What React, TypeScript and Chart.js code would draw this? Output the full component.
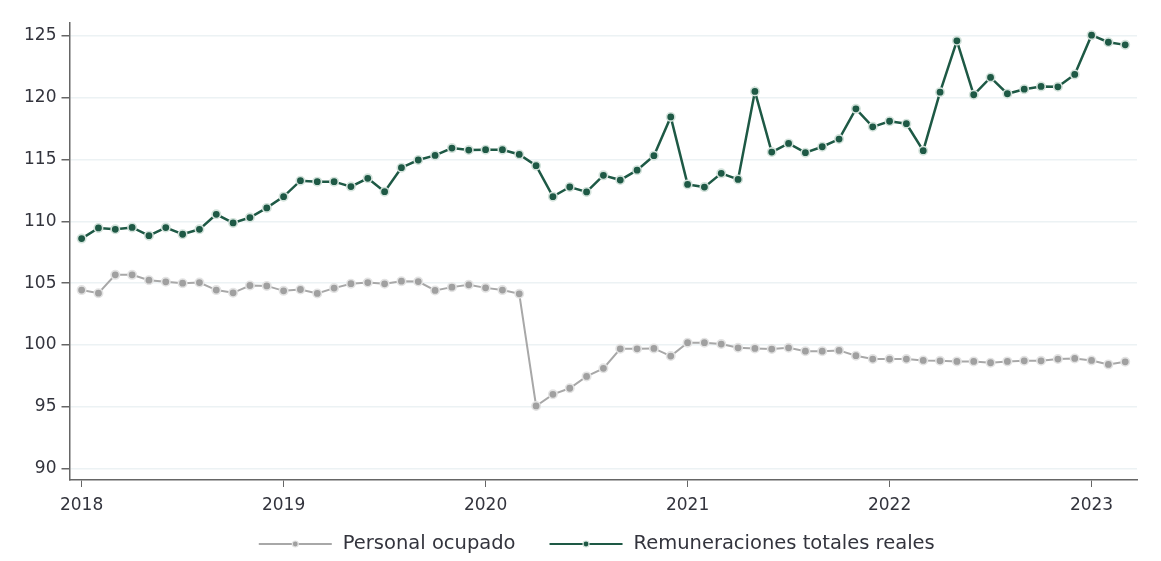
import React, { useEffect, useRef } from 'react';
import { Chart, registerables } from 'chart.js';

Chart.register(...registerables);

const FONT = '"DejaVu Sans", sans-serif';

const seriesNames = ['Personal ocupado', 'Remuneraciones totales reales'];

// Monthly values, Jan 2018 .. Mar 2023
const personalOcupado = [
  104.44, 104.19, 105.67, 105.67, 105.24, 105.11, 105.0, 105.05, 104.44, 104.22, 104.81, 104.78,
  104.38, 104.49, 104.17, 104.6, 104.96, 105.05, 104.95, 105.16, 105.13, 104.41, 104.68, 104.87,
  104.62, 104.44, 104.14, 95.08, 96.02, 96.51, 97.47, 98.12, 99.7, 99.7, 99.73, 99.11,
  100.19, 100.19, 100.08, 99.78, 99.73, 99.68, 99.78, 99.51, 99.51, 99.57, 99.14, 98.87,
  98.87, 98.87, 98.76, 98.73, 98.68, 98.68, 98.57, 98.68, 98.73, 98.73, 98.87, 98.92,
  98.76, 98.44, 98.65,
];

const remuneracionesReales = [
  108.6, 109.46, 109.35, 109.5, 108.84, 109.49, 108.95, 109.35, 110.56, 109.87, 110.3, 111.08,
  111.99, 113.28, 113.2, 113.2, 112.8, 113.47, 112.39, 114.33, 114.95, 115.32, 115.91, 115.75,
  115.78, 115.78, 115.4, 114.49, 111.99, 112.77, 112.37, 113.71, 113.33, 114.13, 115.3, 118.43,
  112.98, 112.76, 113.87, 113.38, 120.49, 115.59, 116.29, 115.54, 116.02, 116.64, 119.08, 117.63,
  118.08, 117.88, 115.7, 120.43, 124.58, 120.22, 121.62, 120.3, 120.67, 120.89, 120.86, 121.86,
  125.03, 124.46, 124.25,
];

const yearTickLabels = ['2018', '2019', '2020', '2021', '2022', '2023'];
const yearTickMonthIndex = [0, 12, 24, 36, 48, 60];
const yTickValues = [90, 95, 100, 105, 110, 115, 120, 125];

const GREEN = '#1e5945';
const GREEN_HALO = '#d3e2db';
const GRAY_LINE = '#a8a8a8';
const GRAY_POINT = '#a0a0a0';
const GRAY_HALO = '#e3e3e3';
const TEXT = '#33343d';
const AXIS = '#666666';

const legendPlugin = {
  id: 'lineLegend',
  afterDraw(chart: any) {
    const ctx = chart.ctx as CanvasRenderingContext2D;
    const ds = chart.data.datasets;
    const fontSize = 19.5;
    const lineLen = 73;
    const gapText = 11;
    const gapItem = 34;
    ctx.save();
    ctx.font = `${fontSize}px ${FONT}`;
    const widths = ds.map((d: any) => lineLen + gapText + ctx.measureText(d.label).width);
    const total = widths.reduce((a: number, b: number) => a + b, 0) + gapItem * (ds.length - 1);
    const area = chart.chartArea;
    let x = (area.left + area.right) / 2 - 6.5 - total / 2;
    const y = chart.height - 9;
    ds.forEach((d: any, i: number) => {
      ctx.strokeStyle = d.borderColor;
      ctx.lineWidth = 2;
      ctx.beginPath();
      ctx.moveTo(x, y);
      ctx.lineTo(x + lineLen, y);
      ctx.stroke();
      ctx.beginPath();
      ctx.arc(x + lineLen / 2, y, 3, 0, Math.PI * 2);
      ctx.fillStyle = d.pointBackgroundColor;
      ctx.fill();
      ctx.lineWidth = 1.2;
      ctx.strokeStyle = d.pointBorderColor;
      ctx.stroke();
      ctx.fillStyle = TEXT;
      ctx.textBaseline = 'middle';
      ctx.textAlign = 'left';
      ctx.fillText(d.label, x + lineLen + gapText, y);
      x += widths[i] + gapItem;
    });
    ctx.restore();
  },
};

export default function App() {
  const ref = useRef<HTMLCanvasElement>(null);

  useEffect(() => {
    const chart = new Chart(ref.current as HTMLCanvasElement, {
      type: 'line',
      data: {
        datasets: [
          {
            label: seriesNames[0],
            data: personalOcupado.map((v, i) => ({ x: i, y: v })),
            borderColor: GRAY_LINE,
            borderWidth: 2,
            pointBackgroundColor: GRAY_POINT,
            pointBorderColor: GRAY_HALO,
            pointBorderWidth: 1.6,
            pointRadius: 4.2,
            tension: 0,
          },
          {
            label: seriesNames[1],
            data: remuneracionesReales.map((v, i) => ({ x: i, y: v })),
            borderColor: GREEN,
            borderWidth: 2.5,
            pointBackgroundColor: GREEN,
            pointBorderColor: GREEN_HALO,
            pointBorderWidth: 1.6,
            pointRadius: 4.2,
            tension: 0,
          },
        ],
      },
      options: {
        responsive: false,
        animation: false,
        devicePixelRatio: 1,
        layout: { padding: { left: 0, right: 16, top: 14.3, bottom: 33 } },
        plugins: {
          legend: { display: false },
          tooltip: { enabled: false },
        },
        scales: {
          x: {
            type: 'linear',
            min: -0.72,
            max: 62.7,
            afterBuildTicks: (scale: any) => {
              scale.ticks = yearTickMonthIndex.map((v) => ({ value: v }));
            },
            afterFit: (scale: any) => {
              scale.height = 40;
            },
            ticks: {
              autoSkip: false,
              maxRotation: 0,
              padding: 8,
              color: TEXT,
              font: { family: FONT, size: 17 },
              callback: (_v: any, index: number) => yearTickLabels[index],
            },
            grid: {
              color: 'rgba(0,0,0,0)',
              tickColor: AXIS,
              tickLength: 7,
              drawOnChartArea: false,
            },
            border: { color: AXIS, width: 1.5 },
          },
          y: {
            type: 'linear',
            min: 89.1,
            max: 126.0,
            afterBuildTicks: (scale: any) => {
              scale.ticks = yTickValues.map((v) => ({ value: v }));
            },
            afterFit: (scale: any) => {
              scale.width = 61.5;
            },
            ticks: {
              padding: 5,
              color: TEXT,
              font: { family: FONT, size: 17 },
              callback: (v: any) => String(v),
            },
            grid: {
              color: '#ecf2f4',
              tickColor: AXIS,
              tickLength: 8,
              lineWidth: 1.5,
            },
            border: { color: AXIS, width: 1.5 },
          },
        },
      },
      plugins: [legendPlugin],
    } as any);
    return () => chart.destroy();
  }, []);

  return (
    <div style={{ width: 1145, height: 545 }}>
      <canvas ref={ref} width={1145} height={545} style={{ display: 'block' }} />
    </div>
  );
}
